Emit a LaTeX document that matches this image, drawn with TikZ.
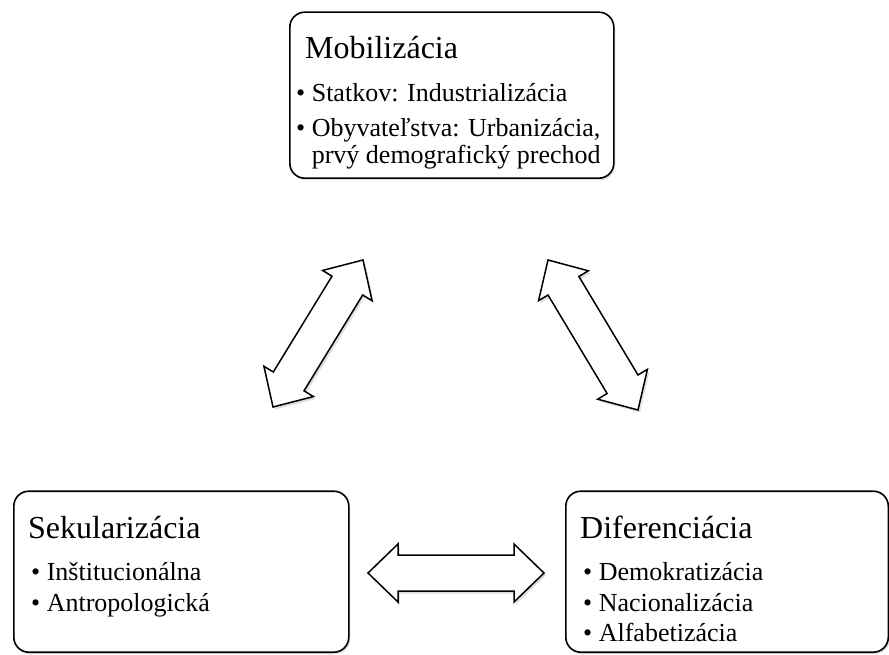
\documentclass[tikz,border=0pt]{standalone}
\usepackage{fontspec}
\setmainfont{Liberation Serif}
\usetikzlibrary{calc,shadows}

\tikzset{
  box/.style={draw, line width=1.6pt, rounded corners=15pt, fill=white, anchor=south west, inner sep=0pt,
    drop shadow={shadow xshift=1.5pt, shadow yshift=-2pt, opacity=0.25}},
  head/.style={anchor=base west, inner sep=0pt, font=\fontsize{32}{38}\selectfont},
  item/.style={anchor=base west, inner sep=0pt, font=\fontsize{26}{30}\selectfont},
  twoway/.style={draw, line width=1.5pt, fill=white, line join=miter,
    drop shadow={shadow xshift=2pt, shadow yshift=-2.5pt, opacity=0.25}}
}

% block arrow with tips at #1 and #2
\newcommand\twoway[2]{%
  \path[twoway] (#1)
    -- ($(#1)!30pt!(#2)!29pt!90:(#2)$)
    -- ($(#1)!30pt!(#2)!18pt!90:(#2)$)
    -- ($(#2)!30pt!(#1)!18pt!-90:(#1)$)
    -- ($(#2)!30pt!(#1)!29pt!-90:(#1)$)
    -- (#2)
    -- ($(#2)!30pt!(#1)!29pt!90:(#1)$)
    -- ($(#2)!30pt!(#1)!18pt!90:(#1)$)
    -- ($(#1)!30pt!(#2)!18pt!-90:(#2)$)
    -- ($(#1)!30pt!(#2)!29pt!-90:(#2)$)
    -- cycle;}

\begin{document}
\begin{tikzpicture}[x=1pt,y=1pt]
  \useasboundingbox (0,0) rectangle (889,654);

  % boxes
  \node[box, minimum width=324pt, minimum height=166pt] (mobbox) at (289,475) {};
  \node[box, minimum width=335pt, minimum height=161pt] (sekbox) at (13,1) {};
  \node[box, minimum width=322.5pt, minimum height=161pt] (difbox) at (565,1) {};

  % texts
  \node[head] (mob) at (305,595) {Mobilizácia};
  \node[item] (mob1) at (296,552) {\textbullet\ Statkov: Industrializácia};
  \node[item] (mob2) at (296,517) {\textbullet\ Obyvateľstva: Urbanizácia,};
  \node[item] (mob3) at (296,490) {\phantom{\textbullet\ }prvý demografický prechod};

  \node[head] (sek) at (28,116) {Sekularizácia};
  \node[item] (sek1) at (31,74) {\textbullet\ Inštitucionálna};
  \node[item] (sek2) at (31,43) {\textbullet\ Antropologická};

  \node[head] (dif) at (580,116) {Diferenciácia};
  \node[item] (dif1) at (583,74) {\textbullet\ Demokratizácia};
  \node[item] (dif2) at (583,43) {\textbullet\ Nacionalizácia};
  \node[item] (dif3) at (583,13) {\textbullet\ Alfabetizácia};

  % arrows
  \coordinate (hl) at (368,81);
  \coordinate (hr) at (544,81);
  \coordinate (ll) at (273,247);
  \coordinate (lu) at (363,394);
  \coordinate (ru) at (548,394);
  \coordinate (rl) at (638,244);
  \twoway{hl}{hr}
  \twoway{ll}{lu}
  \twoway{ru}{rl}
\end{tikzpicture}
\end{document}
